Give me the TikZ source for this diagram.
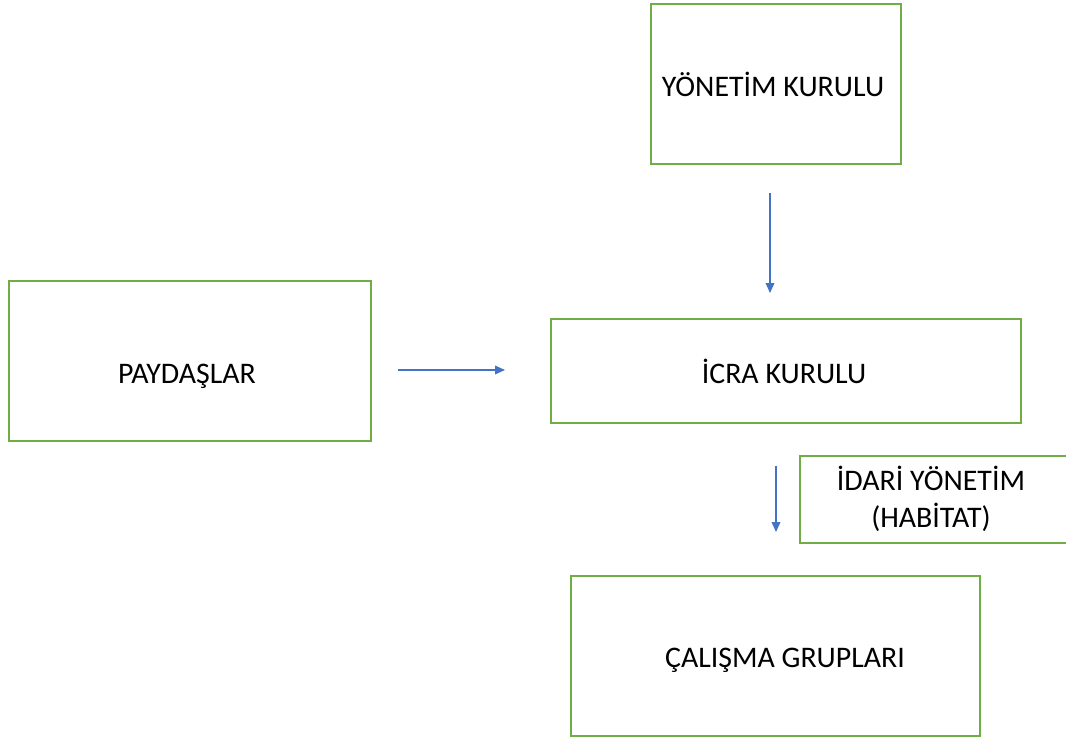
\documentclass[tikz,border=0pt]{standalone}
\usepackage{fontspec}
\setmainfont{Carlito}
\usetikzlibrary{arrows.meta,calc}
\definecolor{boxgreen}{HTML}{70AD47}
\definecolor{arrblue}{HTML}{4472C4}
\begin{document}
\begin{tikzpicture}[x=0.75pt,y=-0.75pt,
  box/.style={draw=boxgreen,line width=1.5pt,rectangle,inner sep=0pt},
  lbl/.style={font=\fontsize{22.4}{28}\selectfont,align=center,text=black},
  arr/.style={draw=arrblue,line width=1.1pt,-{Triangle[length=7.5pt,width=6.5pt]}}]
\useasboundingbox (0,0) rectangle (1066,738);
\clip (0,0) rectangle (1066,738);
% boxes
\node[box,minimum width=250*0.75pt,minimum height=160*0.75pt] (yk) at (776,84) {};
\node[lbl] (yklbl) at (773,84) {YÖNETİM KURULU};
\node[box,minimum width=362*0.75pt,minimum height=160*0.75pt] (pay) at (190,361) {};
\node[lbl] (paylbl) at (187,376) {PAYDAŞLAR};
\node[box,minimum width=470*0.75pt,minimum height=104*0.75pt] (icra) at (786,371) {};
\node[lbl] (icralbl) at (784,371) {İCRA KURULU};
\node[box,minimum width=270*0.75pt,minimum height=87*0.75pt] (idari) at (935,499.5) {};
\node[lbl] (idarilbl) at (931,499) {İDARİ YÖNETİM\\(HABİTAT)};
\node[box,minimum width=409*0.75pt,minimum height=160*0.75pt] (cal) at (775.5,656) {};
\node[lbl] (callbl) at (785,660) {ÇALIŞMA GRUPLARI};
% arrows
\coordinate (a1) at ($(yk.south)+(-6,0)$);
\draw[arr,shorten <=28*0.75pt,shorten >=25*0.75pt] (a1) -- (a1 |- icra.north);
\coordinate (a2) at ($(pay.east)+(0,9)$);
\draw[arr,shorten <=26*0.75pt,shorten >=45*0.75pt] (a2) -- (a2 -| icra.west);
\coordinate (a3) at ($(icra.south)+(-10,0)$);
\draw[arr,shorten <=42*0.75pt,shorten >=43*0.75pt] (a3) -- (a3 |- cal.north);
\end{tikzpicture}
\end{document}
